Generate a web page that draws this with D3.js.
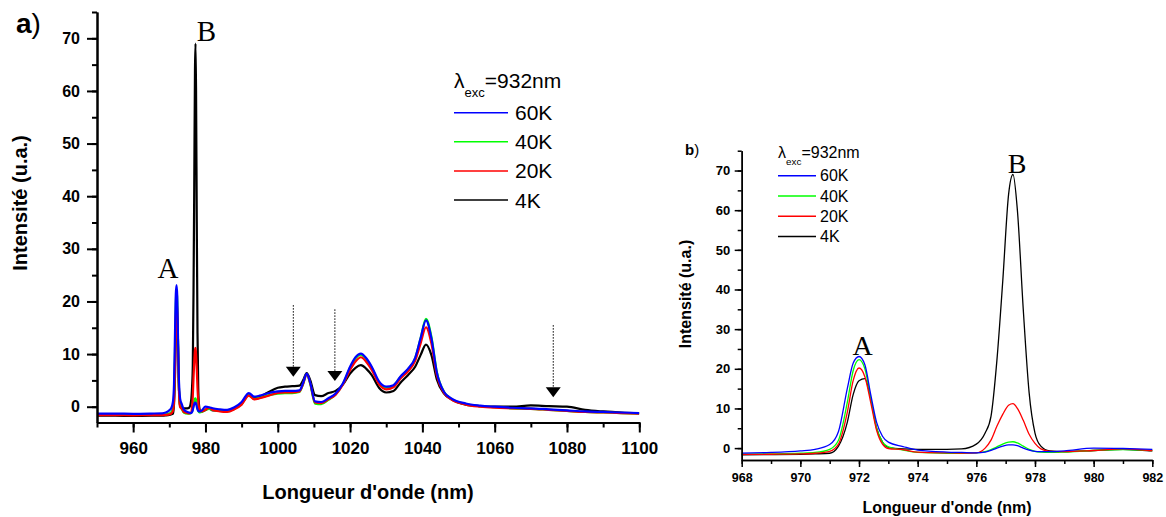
<!DOCTYPE html>
<html>
<head>
<meta charset="utf-8">
<script src="https://cdn.jsdelivr.net/npm/d3@7"></script>
<style>
  body { margin: 0; background: #fff; }
  svg { display: block; }
  text { font-family: "Liberation Sans", Arial, sans-serif; fill: #000; }
  .axis path, .axis line { stroke: #000; }
  .axis text { font-weight: bold; }
  .peak { font-family: "Liberation Serif", "Times New Roman", serif; }
</style>
</head>
<body>
<div id="chart"></div>
<script>
// wavelength grid (nm), finer around the two narrow lines A and B
var wavelength = [950, 955, 960, 965, 968, 969, 970, 970.5, 971, 971.3, 971.6, 971.8, 972, 972.2, 972.4, 972.6, 972.8, 973, 973.5, 974, 975, 975.5, 976, 976.3, 976.5, 976.7, 976.9, 977.1, 977.25, 977.4, 977.6, 977.8, 978, 978.2, 978.5, 979, 980, 981, 982, 984, 986, 988, 990, 992, 993.5, 995, 997, 1000, 1002, 1004, 1006, 1007, 1008, 1009, 1010.3, 1012, 1014, 1016, 1018, 1020, 1021.5, 1023, 1024.5, 1026, 1028, 1030, 1032, 1034, 1036, 1038, 1039.5, 1041, 1042.5, 1044, 1046, 1048, 1052, 1056, 1060, 1065, 1070, 1075, 1080, 1085, 1090, 1095, 1100];

// intensity (u.a.) for each temperature
var int60K = [-1.3, -1.3, -1.35, -1.3, -1.25, -1.1, -0.7, -0.3, 0.9, 4.2, 15, 21.4, 23.1, 21, 13.5, 6.5, 3.0, 1.5, 0.4, -0.5, -1.0, -1.1, -1.2, -1.0, -0.6, 0.0, 0.5, 0.8, 0.8, 0.6, 0.0, -0.5, -0.8, -0.9, -0.9, -0.7, 0.0, -0.1, -0.3, -0.5, -0.6, -0.1, 0.9, 2.6, 1.9, 2.1, 2.5, 2.9, 3.0, 3.0, 3.1, 4.5, 6.3, 4.5, 1.0, 0.9, 1.6, 2.5, 4.4, 7.6, 9.4, 10.1, 9.2, 7.6, 4.8, 3.8, 4.1, 5.8, 7.2, 9.3, 13.0, 16.4, 13.0, 6.5, 2.8, 1.6, 0.6, 0.2, 0.0, -0.2, -0.3, -0.5, -0.7, -0.9, -1.0, -1.1, -1.2];
var int40K = [-1.5, -1.5, -1.55, -1.5, -1.5, -1.45, -1.3, -1.1, -0.3, 2.0, 11.5, 19.5, 22.3, 20, 12.5, 5.0, 1.5, 0.3, -0.5, -1.1, -1.3, -1.3, -1.2, -0.9, -0.4, 0.3, 1.0, 1.5, 1.6, 1.3, 0.5, -0.3, -0.8, -1.0, -1.1, -1.0, -0.6, -0.4, -0.6, -0.8, -0.9, -0.4, 0.5, 2.2, 1.5, 1.7, 2.1, 2.5, 2.6, 2.6, 2.8, 4.3, 6.2, 4.3, 0.6, 0.5, 1.3, 2.3, 4.3, 7.4, 9.2, 9.9, 9.0, 7.4, 4.6, 3.6, 4.0, 5.7, 7.1, 9.2, 13.0, 16.7, 13.3, 6.6, 2.8, 1.5, 0.5, 0.1, -0.1, -0.3, -0.4, -0.6, -0.8, -1.0, -1.1, -1.2, -1.3];
var int20K = [-1.6, -1.6, -1.65, -1.6, -1.6, -1.55, -1.45, -1.3, -0.8, 1.0, 9.0, 17.0, 20.2, 18.0, 11.5, 4.5, 1.0, -0.1, -0.4, -1.0, -1.2, -1.25, -1.2, 0.0, 2.0, 5.5, 8.5, 10.8, 11.2, 10.0, 7.0, 3.5, 1.2, -0.2, -0.8, -0.9, -0.6, -0.2, -0.6, -0.9, -1.0, -0.5, 0.4, 2.1, 1.4, 1.6, 2.0, 2.6, 2.7, 2.7, 2.9, 4.3, 6.2, 4.4, 0.8, 0.7, 1.4, 2.3, 4.2, 7.0, 8.6, 9.4, 8.5, 7.0, 4.3, 3.3, 3.7, 5.4, 6.7, 8.7, 12.0, 15.1, 12.0, 6.0, 2.6, 1.4, 0.4, 0.0, -0.2, -0.3, -0.4, -0.6, -0.8, -1.0, -1.1, -1.2, -1.3];
var int4K = [-1.7, -1.7, -1.75, -1.7, -1.7, -1.65, -1.55, -1.45, -1.3, 0.5, 6.5, 13.5, 17.0, 17.5, 12.5, 5.0, 1.5, 0.2, -0.2, -0.3, -0.3, -0.2, 1.0, 3.8, 8.0, 22.0, 42.0, 64.0, 69.0, 60.0, 35.0, 14.0, 3.8, 0.5, -0.7, -0.9, -0.6, -0.3, -0.7, -0.7, -0.8, -0.3, 0.6, 2.4, 1.7, 1.9, 2.6, 3.6, 3.8, 3.9, 4.0, 5.0, 6.4, 5.0, 2.2, 2.0, 2.6, 3.0, 4.2, 6.3, 7.4, 7.9, 7.2, 6.0, 3.6, 2.7, 3.0, 4.6, 6.0, 7.6, 9.8, 11.8, 9.8, 5.2, 2.5, 1.4, 0.4, 0.1, 0.0, 0.0, 0.25, 0.1, 0.0, -0.6, -0.9, -1.1, -1.2];

// legend / series order (top to bottom in legend)
var seriesNames  = ["60K", "40K", "20K", "4K"];
var seriesColors = ["#0000ff", "#00ff00", "#ff0000", "#000000"];
var seriesValues = [int60K, int40K, int20K, int4K];

// tick values
var yMajorTicks = [0, 10, 20, 30, 40, 50, 60, 70];
var yMinorTicks = [0, 5, 10, 15, 20, 25, 30, 35, 40, 45, 50, 55, 60, 65, 70, 75];

// dotted arrows on panel a)
var arrowNm  = [1004.3, 1015.8, 1076.2];
var arrowTop = [19.3, 18.5, 15.5];
var arrowTip = [5.7, 4.9, 1.8];

// peak labels: [text, nm, intensity] for each panel
var peaksA = [["A", 969.6, 24.4], ["B", 980.3, 69.4]];
var peaksB = [["A", 972.12, 23.5], ["B", 977.39, 69.5]];

var W = 1166, H = 517;

var svg = d3.select("#chart").append("svg")
            .attr("width", W)
            .attr("height", H);

// build series objects once
var series = seriesNames.map(function(name, i){
    return {
        name: name,
        color: seriesColors[i],
        points: wavelength.map(function(w, j){ return {w: w, v: seriesValues[i][j]}; })
    };
});
// draw order: 4K at the back, 60K on top
var drawOrder = [series[3], series[1], series[2], series[0]];

function drawPanel(p){
    var g = svg.append("g");

    var x = d3.scaleLinear().domain(p.xDomain).range([p.left, p.right]);
    var y = d3.scaleLinear().domain([-3, 75]).range([p.bottom, p.top]);

    // clip so the zoomed panel only shows its own range
    svg.append("clipPath").attr("id", p.id + "-clip")
        .append("rect")
        .attr("x", p.left).attr("y", p.top)
        .attr("width", p.right - p.left).attr("height", p.bottom - p.top);

    var line = d3.line()
                 .x(function(d){ return x(d.w); })
                 .y(function(d){ return y(d.v); })
                 .curve(d3.curveMonotoneX);

    g.append("g")
        .attr("clip-path", "url(#" + p.id + "-clip)")
      .selectAll("path")
        .data(drawOrder)
      .enter().append("path")
        .attr("d", function(d){ return line(d.points); })
        .attr("fill", "none")
        .attr("stroke", function(d){ return d.color; })
        .attr("stroke-width", p.lineW)
        .attr("stroke-linejoin", "round");

    // x axis: minor then major
    g.append("g").attr("class", "axis")
        .attr("transform", "translate(0," + p.bottom + ")")
        .call(d3.axisBottom(x).tickValues(p.xMinor).tickSize(p.minorLen).tickSizeOuter(0).tickFormat(""))
        .call(function(a){ a.selectAll("path,line").attr("stroke-width", p.axisW); });
    g.append("g").attr("class", "axis")
        .attr("transform", "translate(0," + p.bottom + ")")
        .call(d3.axisBottom(x).tickValues(p.xMajor).tickSize(p.majorLen).tickSizeOuter(0)
              .tickPadding(p.xPad).tickFormat(d3.format("d")))
        .call(function(a){
            a.selectAll("path,line").attr("stroke-width", p.axisW);
            a.selectAll("text").style("font-size", p.xFont + "px");
        });

    // y axis
    g.append("g").attr("class", "axis")
        .attr("transform", "translate(" + p.left + ",0)")
        .call(d3.axisLeft(y).tickValues(yMinorTicks).tickSize(p.minorLen).tickSizeOuter(0).tickFormat(""))
        .call(function(a){ a.selectAll("path,line").attr("stroke-width", p.axisW); });
    g.append("g").attr("class", "axis")
        .attr("transform", "translate(" + p.left + ",0)")
        .call(d3.axisLeft(y).tickValues(yMajorTicks).tickSize(p.majorLen).tickSizeOuter(0))
        .call(function(a){
            a.selectAll("path,line").attr("stroke-width", p.axisW);
            a.selectAll("text")
                .attr("x", -(p.majorLen + p.yPad))
                .attr("text-anchor", "end")
                .style("font-size", p.yFont + "px");
        });

    // axis titles
    g.append("text")
        .attr("x", p.xTitle[0]).attr("y", p.xTitle[1])
        .attr("text-anchor", "middle")
        .style("font-weight", "bold").style("font-size", p.titleFont + "px")
        .text("Longueur d'onde (nm)");
    g.append("text")
        .attr("transform", "translate(" + p.yTitle[0] + "," + p.yTitle[1] + ") rotate(-90)")
        .attr("text-anchor", "middle")
        .style("font-weight", "bold").style("font-size", p.titleFont + "px")
        .text("Intensité (u.a.)");

    // panel tag a) / b)
    var tag = g.append("text")
        .attr("x", p.tag[0]).attr("y", p.tag[1])
        .style("font-size", p.tagFont + "px");
    tag.append("tspan").style("font-weight", "bold").text(p.tagText);
    tag.append("tspan").text(")");

    // peak labels
    g.selectAll(".peak")
        .data(p.peaks)
      .enter().append("text")
        .attr("class", "peak")
        .attr("x", function(d){ return x(d[1]); })
        .attr("y", function(d){ return y(d[2]); })
        .attr("text-anchor", "middle")
        .style("font-size", p.peakFont + "px")
        .text(function(d){ return d[0]; });

    // legend
    var lg = g.append("g");
    var head = lg.append("text")
        .attr("x", p.legX).attr("y", p.legHeadY)
        .style("font-size", p.legFont + "px");
    head.append("tspan").text("λ");
    head.append("tspan").attr("dy", p.legFont * 0.45).style("font-size", (p.legFont * 0.62) + "px").text("exc");
    head.append("tspan").attr("dy", -p.legFont * 0.45).text("=932nm");

    var items = lg.selectAll(".item")
        .data(series)
      .enter().append("g")
        .attr("class", "item")
        .attr("transform", function(d, i){ return "translate(0," + (p.legY0 + i * p.legStep) + ")"; });
    items.append("line")
        .attr("x1", p.legX).attr("x2", p.legX + p.legLen)
        .attr("stroke", function(d){ return d.color; })
        .attr("stroke-width", 1.5);
    items.append("text")
        .attr("x", p.legX + p.legLen + p.legGap)
        .attr("y", p.legFont * 0.36)
        .style("font-size", p.legFont + "px")
        .text(function(d){ return d.name; });

    return {x: x, y: y, g: g};
}

// ---- panel a) : full spectrum
var a = drawPanel({
    id: "pa",
    xDomain: [950, 1100], left: 97, right: 639.3, top: 12, bottom: 422.5,
    xMajor: d3.range(960, 1101, 20), xMinor: d3.range(950, 1101, 10),
    majorLen: 10, minorLen: 5, axisW: 2, lineW: 2.2,
    xPad: 9, yPad: 7, xFont: 17, yFont: 16,
    titleFont: 20, xTitle: [368, 499], yTitle: [27, 203],
    tag: [16, 33], tagText: "a", tagFont: 28,
    peaks: peaksA, peakFont: 29,
    legX: 454, legHeadY: 88, legY0: 112.7, legStep: 29.1, legLen: 54, legGap: 7, legFont: 21
});

// dotted arrows with filled heads
arrowNm.forEach(function(nm, i){
    var ax = a.x(nm), yTop = a.y(arrowTop[i]), yTip = a.y(arrowTip[i]);
    a.g.append("line")
        .attr("x1", ax).attr("x2", ax)
        .attr("y1", yTop).attr("y2", yTip - 9)
        .attr("stroke", "#000").attr("stroke-width", 1)
        .attr("stroke-dasharray", "1.5,1.5");
    a.g.append("path")
        .attr("d", "M" + (ax - 7.5) + "," + (yTip - 10) + "L" + (ax + 7.5) + "," + (yTip - 10) + "L" + ax + "," + yTip + "Z")
        .attr("fill", "#000");
});

// ---- panel b) : zoom on lines A and B
drawPanel({
    id: "pb",
    xDomain: [968, 982], left: 741.7, right: 1152.3, top: 150.7, bottom: 460,
    xMajor: d3.range(968, 983, 2), xMinor: d3.range(968, 983, 1),
    majorLen: 7, minorLen: 4, axisW: 1.5, lineW: 1.3,
    xPad: 6, yPad: 4.5, xFont: 12.5, yFont: 13,
    titleFont: 16, xTitle: [947, 513], yTitle: [691, 294],
    tag: [685, 155], tagText: "b", tagFont: 15,
    peaks: peaksB, peakFont: 28,
    legX: 778, legHeadY: 158, legY0: 175.7, legStep: 20.3, legLen: 38, legGap: 4, legFont: 16
});
</script>
</body>
</html>
